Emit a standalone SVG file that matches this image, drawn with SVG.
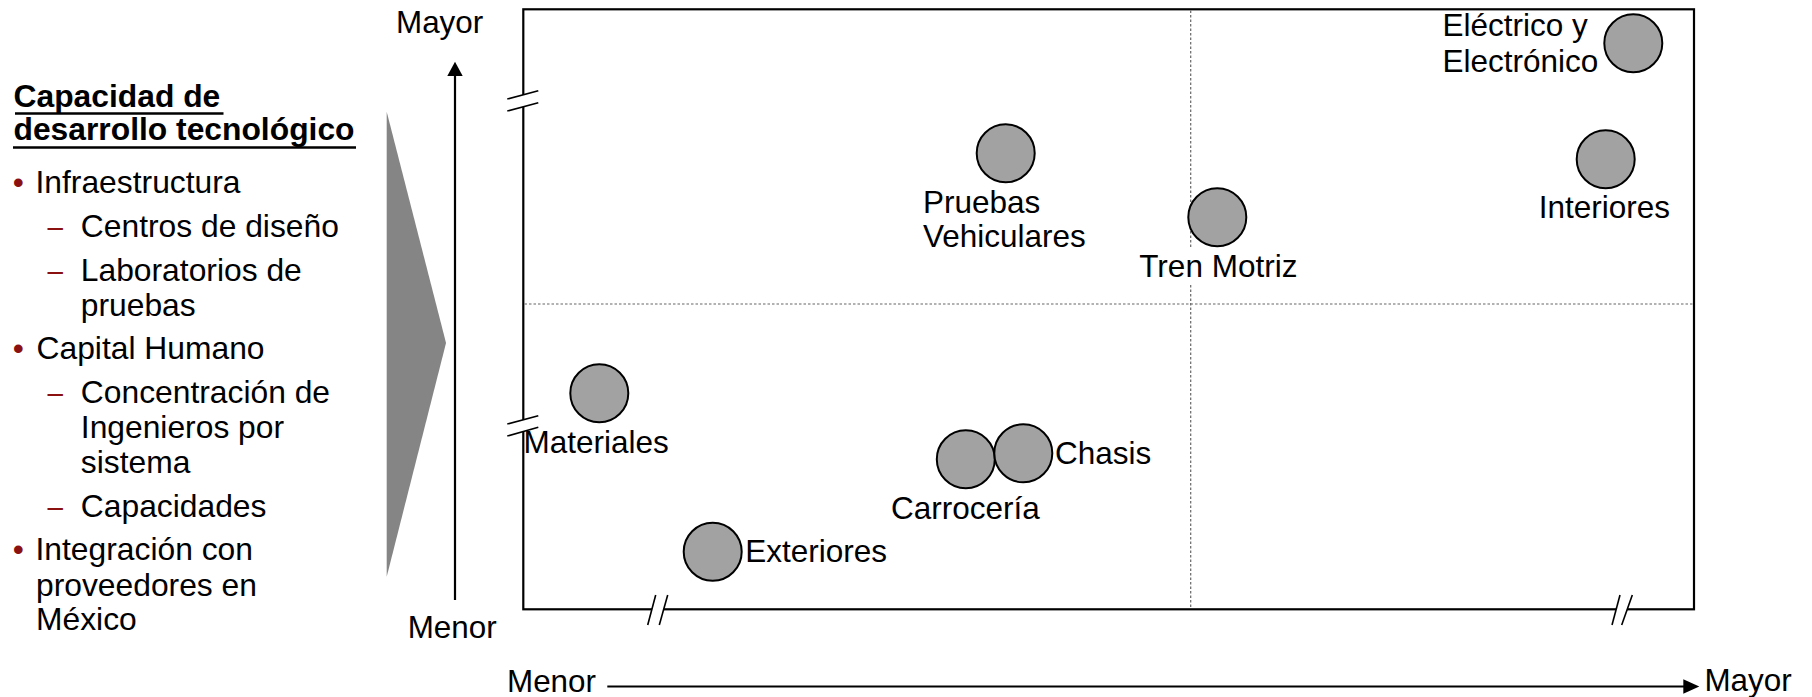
<svg xmlns="http://www.w3.org/2000/svg" width="1812" height="697" viewBox="0 0 1812 697">
  <style>
    text { font-family: "Liberation Sans", Arial, sans-serif; fill: #000; }
    .lbl { font-size: 31.5px; }
    .axis { font-size: 31.4px; }
    .side { font-size: 31.8px; }
    .head { font-size: 31.8px; font-weight: bold; }
    .mark { fill: #8B1111; }
    .dot { fill: #A2A2A2; stroke: #000; stroke-width: 2; }
    .frame { fill: none; stroke: #000; stroke-width: 2.2; }
    .grid { fill: none; stroke: #666; stroke-width: 1.2; stroke-dasharray: 2.5 2; }
    .brk { fill: #fff; stroke: none; }
    .brkline { stroke: #000; stroke-width: 1.6; fill: none; }
    .arrow { stroke: #000; stroke-width: 2.2; fill: none; }
  </style>

  <rect width="1812" height="697" fill="#fff"/>

  <!-- Left panel: criteria list -->
  <g id="criteria">
    <text class="head" x="13.5" y="107.3">Capacidad de</text>
    <line x1="15" y1="113.5" x2="223.5" y2="113.5" stroke="#000" stroke-width="2.4"/>
    <text class="head" x="13.5" y="140">desarrollo tecnológico</text>
    <line x1="13" y1="147.5" x2="356" y2="147.5" stroke="#000" stroke-width="2.4"/>

    <text class="side mark" x="12.7" y="193.3">•</text>
    <text class="side" x="35.5" y="193.3">Infraestructura</text>
    <text class="side mark" x="47.5" y="237.3" textLength="15.5" lengthAdjust="spacingAndGlyphs">–</text>
    <text class="side" x="80.8" y="237.3">Centros de diseño</text>
    <text class="side mark" x="47.5" y="281" textLength="15.5" lengthAdjust="spacingAndGlyphs">–</text>
    <text class="side" x="80.8" y="281">Laboratorios de</text>
    <text class="side" x="80.8" y="316">pruebas</text>

    <text class="side mark" x="12.7" y="359.3">•</text>
    <text class="side" x="36.5" y="359.3">Capital Humano</text>
    <text class="side mark" x="47.5" y="402.7" textLength="15.5" lengthAdjust="spacingAndGlyphs">–</text>
    <text class="side" x="80.8" y="402.7">Concentración de</text>
    <text class="side" x="80.8" y="438.3">Ingenieros por</text>
    <text class="side" x="80.8" y="473.3">sistema</text>
    <text class="side mark" x="47.5" y="516.7" textLength="15.5" lengthAdjust="spacingAndGlyphs">–</text>
    <text class="side" x="80.8" y="516.7">Capacidades</text>

    <text class="side mark" x="12.7" y="560">•</text>
    <text class="side" x="35.5" y="560">Integración con</text>
    <text class="side" x="36" y="595.7">proveedores en</text>
    <text class="side" x="36" y="630">México</text>
  </g>

  <!-- Wedge pointing into the chart -->
  <polygon id="wedge" points="386.7,111.7 444.5,337 446,343 444.5,349 386.7,576.7" fill="#858585"/>

  <!-- Chart frame, quadrant guides and axis breaks -->
  <g id="frame">
    <rect class="frame" x="523.3" y="9.3" width="1170.7" height="600"/>
    <line class="grid" x1="1190.7" y1="10.5" x2="1190.7" y2="608"/>
    <line class="grid" x1="524.5" y1="304" x2="1693" y2="304"/>

    <polygon class="brk" points="507.3,99 538.3,90.7 538.3,102.7 507.3,111"/>
    <line class="brkline" x1="507.3" y1="99" x2="538.3" y2="90.7"/>
    <line class="brkline" x1="507.3" y1="111" x2="538.3" y2="102.7"/>

    <polygon class="brk" points="507.3,424 538.3,415.7 538.3,427.3 507.3,436"/>
    <line class="brkline" x1="507.3" y1="424" x2="538.3" y2="415.7"/>
    <line class="brkline" x1="507.3" y1="436" x2="538.3" y2="427.3"/>

    <polygon class="brk" points="647.7,625 655.7,595 667.7,595 659.3,625"/>
    <line class="brkline" x1="647.7" y1="625" x2="655.7" y2="595"/>
    <line class="brkline" x1="659.3" y1="625" x2="667.7" y2="595"/>

    <polygon class="brk" points="1612,625 1620,595 1632.3,595 1621.7,625"/>
    <line class="brkline" x1="1612" y1="625" x2="1620" y2="595"/>
    <line class="brkline" x1="1621.7" y1="625" x2="1632.3" y2="595"/>
  </g>

  <!-- Axes -->
  <g id="connectors">
    <line class="arrow" x1="455" y1="600" x2="455" y2="74"/>
    <polygon points="455,61.7 447.3,76 462.7,76" fill="#000"/>
    <line class="arrow" x1="607.3" y1="686.5" x2="1685" y2="686.5"/>
    <polygon points="1699.3,686.5 1683.3,679.3 1683.3,693.7" fill="#000"/>
  </g>

  <g id="axis-labels">
    <text class="axis" x="396" y="32.5">Mayor</text>
    <text class="axis" x="407.7" y="638.3">Menor</text>
    <text class="axis" x="507" y="692.4">Menor</text>
    <text class="axis" x="1704.4" y="691">Mayor</text>
  </g>

  <!-- Systems -->
  <g id="pruebas-vehiculares">
    <circle class="dot" cx="1005.7" cy="153.3" r="29"/>
    <text class="lbl" x="923" y="213.3">Pruebas</text>
    <text class="lbl" x="923" y="247.3">Vehiculares</text>
  </g>

  <g id="tren-motriz">
    <rect x="1137" y="247.5" width="164" height="37.5" fill="#fff"/>
    <circle class="dot" cx="1217.3" cy="217.3" r="29"/>
    <text class="lbl" x="1139.3" y="276.7">Tren Motriz</text>
  </g>

  <g id="electrico-electronico">
    <circle class="dot" cx="1633.3" cy="43.3" r="29"/>
    <text class="lbl" x="1442.5" y="36">Eléctrico y</text>
    <text class="lbl" x="1442.5" y="71.7">Electrónico</text>
  </g>

  <g id="interiores">
    <circle class="dot" cx="1605.7" cy="159.3" r="29"/>
    <text class="lbl" x="1538.7" y="218.3">Interiores</text>
  </g>

  <g id="materiales">
    <circle class="dot" cx="599.3" cy="393.3" r="29"/>
    <text class="lbl" x="523.4" y="452.7">Materiales</text>
  </g>

  <g id="exteriores">
    <circle class="dot" cx="712.7" cy="551.7" r="29"/>
    <text class="lbl" x="745.2" y="562.3">Exteriores</text>
  </g>

  <g id="carroceria">
    <circle class="dot" cx="965.8" cy="459.2" r="29"/>
    <text class="lbl" x="891" y="519">Carrocería</text>
  </g>

  <g id="chasis">
    <circle class="dot" cx="1023.3" cy="453.3" r="29"/>
    <text class="lbl" x="1055" y="464.3">Chasis</text>
  </g>
</svg>
